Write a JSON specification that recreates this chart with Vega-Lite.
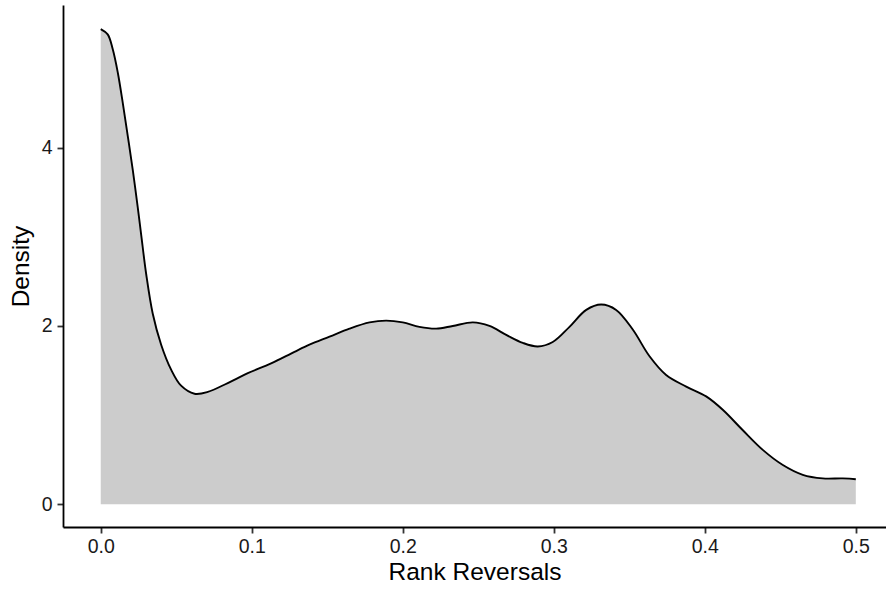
{
  "$schema": "https://vega.github.io/schema/vega-lite/v6.json",
  "width": 823,
  "height": 522,
  "autosize": {"type": "none"},
  "padding": {"left": 63, "top": 5, "right": 0, "bottom": 63},
  "background": "white",
  "config": {
    "view": {"stroke": null},
    "font": "Liberation Sans",
    "axis": {
      "grid": false,
      "domainColor": "black",
      "domainWidth": 1.8,
      "tickColor": "#333333",
      "tickWidth": 1.8,
      "tickSize": 6,
      "labelColor": "#1A1A1A",
      "labelFont": "Liberation Sans",
      "labelFontSize": 19.5,
      "titleFont": "Liberation Sans",
      "titleFontSize": 24.5,
      "titleFontWeight": "normal",
      "titleColor": "black"
    }
  },
  "data": {
    "values": [
      {"rank_reversals": 0.0, "density": 5.33},
      {"rank_reversals": 0.0046, "density": 5.27},
      {"rank_reversals": 0.008, "density": 5.1},
      {"rank_reversals": 0.0113, "density": 4.84},
      {"rank_reversals": 0.0146, "density": 4.5},
      {"rank_reversals": 0.0179, "density": 4.13},
      {"rank_reversals": 0.0212, "density": 3.75},
      {"rank_reversals": 0.0245, "density": 3.33},
      {"rank_reversals": 0.0268, "density": 3.02},
      {"rank_reversals": 0.0301, "density": 2.58},
      {"rank_reversals": 0.0344, "density": 2.14},
      {"rank_reversals": 0.04, "density": 1.79},
      {"rank_reversals": 0.0466, "density": 1.51},
      {"rank_reversals": 0.0532, "density": 1.33},
      {"rank_reversals": 0.0621, "density": 1.24},
      {"rank_reversals": 0.0709, "density": 1.26},
      {"rank_reversals": 0.0841, "density": 1.36},
      {"rank_reversals": 0.0974, "density": 1.47},
      {"rank_reversals": 0.1128, "density": 1.58},
      {"rank_reversals": 0.1283, "density": 1.71},
      {"rank_reversals": 0.1382, "density": 1.79},
      {"rank_reversals": 0.1515, "density": 1.88},
      {"rank_reversals": 0.1647, "density": 1.97},
      {"rank_reversals": 0.178, "density": 2.04},
      {"rank_reversals": 0.189, "density": 2.06},
      {"rank_reversals": 0.2, "density": 2.04},
      {"rank_reversals": 0.211, "density": 1.99},
      {"rank_reversals": 0.2221, "density": 1.97},
      {"rank_reversals": 0.2331, "density": 2.0},
      {"rank_reversals": 0.2464, "density": 2.04},
      {"rank_reversals": 0.2574, "density": 2.0},
      {"rank_reversals": 0.2685, "density": 1.9},
      {"rank_reversals": 0.2795, "density": 1.81},
      {"rank_reversals": 0.2894, "density": 1.77},
      {"rank_reversals": 0.2993, "density": 1.82},
      {"rank_reversals": 0.3104, "density": 1.99},
      {"rank_reversals": 0.3215, "density": 2.18},
      {"rank_reversals": 0.3314, "density": 2.24},
      {"rank_reversals": 0.3413, "density": 2.18},
      {"rank_reversals": 0.3523, "density": 1.96},
      {"rank_reversals": 0.3634, "density": 1.66},
      {"rank_reversals": 0.3744, "density": 1.45},
      {"rank_reversals": 0.3877, "density": 1.32},
      {"rank_reversals": 0.4009, "density": 1.21},
      {"rank_reversals": 0.4119, "density": 1.06},
      {"rank_reversals": 0.4252, "density": 0.83},
      {"rank_reversals": 0.4384, "density": 0.61},
      {"rank_reversals": 0.4517, "density": 0.44},
      {"rank_reversals": 0.4649, "density": 0.33},
      {"rank_reversals": 0.4781, "density": 0.29},
      {"rank_reversals": 0.4914, "density": 0.29},
      {"rank_reversals": 0.5, "density": 0.28}
    ]
  },
  "encoding": {
    "x": {
      "field": "rank_reversals",
      "type": "quantitative",
      "title": "Rank Reversals",
      "scale": {"domain": [-0.025, 0.52], "nice": false, "zero": false},
      "axis": {
        "values": [0, 0.1, 0.2, 0.3, 0.4, 0.5],
        "format": ".1f",
        "labelPadding": 4,
        "titlePadding": 5,
        "labelFlush": false
      }
    },
    "y": {
      "field": "density",
      "type": "quantitative",
      "title": "Density",
      "scale": {"domain": [-0.255, 5.6], "nice": false, "zero": false},
      "axis": {
        "values": [0, 2, 4],
        "format": "d",
        "labelPadding": 5,
        "titlePadding": 8,
        "labelFlush": false
      }
    }
  },
  "layer": [
    {
      "mark": {"type": "area", "color": "#CCCCCC", "interpolate": "catmull-rom"},
      "encoding": {"y2": {"datum": 0}}
    },
    {
      "mark": {"type": "line", "color": "black", "strokeWidth": 1.9, "interpolate": "catmull-rom"}
    }
  ]
}
